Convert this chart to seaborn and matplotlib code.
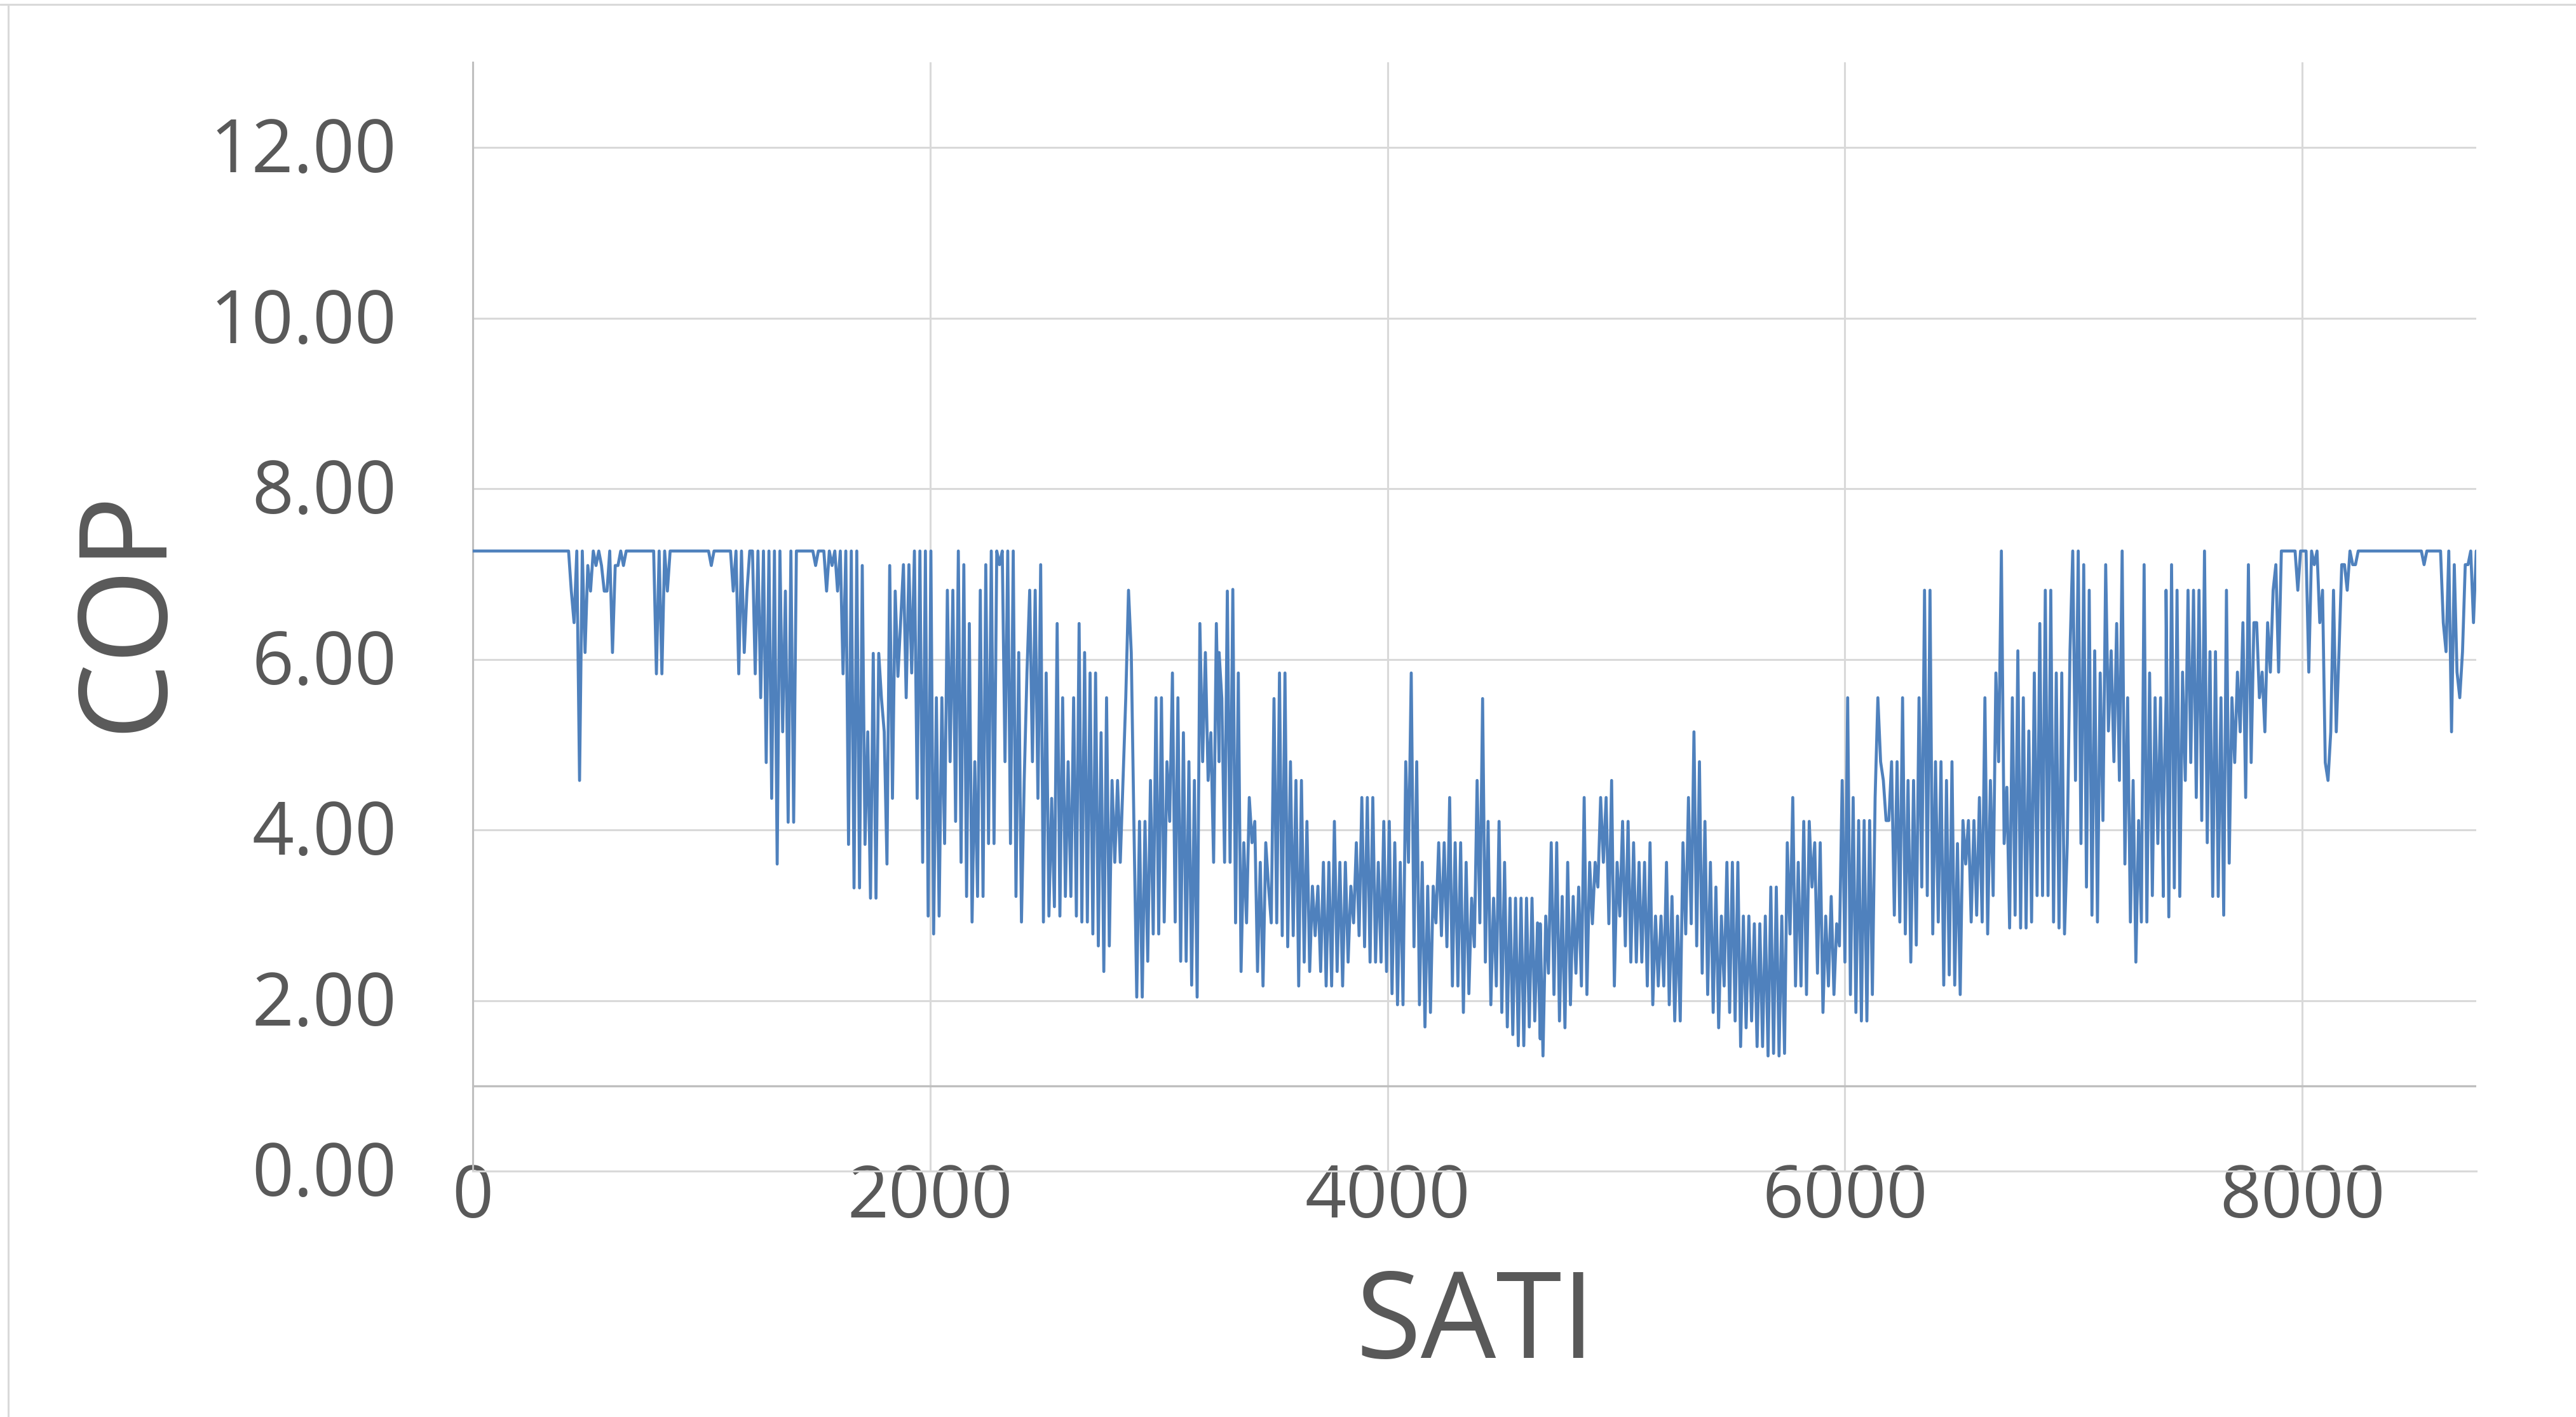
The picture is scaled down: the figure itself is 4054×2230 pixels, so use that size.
import numpy as np
import matplotlib
matplotlib.use("Agg")
import matplotlib.pyplot as plt
from matplotlib.lines import Line2D
from matplotlib.transforms import ScaledTranslation
import seaborn as sns

STEP = 12  # hours between read-off samples

cop_winter_start = [7.27] * 36 + [
    6.8, 6.43, 7.27, 4.58, 7.27, 6.08, 7.1, 6.8, 7.27, 7.1, 7.27, 7.1, 6.8, 6.8, 7.27, 6.08, 7.1, 7.1, 7.27, 7.1,
] + [7.27] * 11 + [5.83, 7.27, 5.83, 7.27, 6.8, 7.27] + [7.27] * 14 + [7.1] + [7.27] * 7 + [
    6.8, 7.27, 5.83, 7.27, 6.08, 6.8, 7.27, 7.27, 5.83, 7.27, 5.55, 7.27, 4.79, 7.27, 4.37, 7.27, 3.6, 7.27,
    5.15, 6.8, 4.09, 7.27, 4.09, 7.27,
] + [7.27] * 6 + [7.1] + [7.27] * 3 + [
    6.8, 7.27, 7.1, 7.27, 6.8, 7.27, 5.83, 7.27, 3.83, 7.27, 3.32, 7.27, 3.32, 7.1, 3.83, 5.15, 3.2, 6.07,
    3.2, 6.07, 5.54, 5.15, 3.6, 7.1, 4.37, 6.8, 5.8,
]

cop_spring = [
    7.11, 5.55, 7.11, 5.84, 7.27, 4.37, 7.27, 3.62, 7.27, 2.99, 7.27, 2.78, 5.55, 2.99, 5.55, 3.84, 6.81, 4.8,
    6.81, 4.1, 7.27, 3.62, 7.11, 3.22, 6.42, 2.92, 4.8, 3.22, 6.81, 3.22, 7.11, 3.84, 7.27, 3.84, 7.27, 7.11,
    7.27, 4.8, 7.27, 3.84, 7.27, 3.22, 6.08, 2.92, 4.58, 5.84, 6.81, 4.8, 6.81, 4.37, 7.11, 2.92, 5.84, 2.99,
    4.37, 3.1, 6.42, 2.99, 5.55, 3.22, 4.8, 3.22, 5.55, 2.99, 6.42, 2.92, 6.08, 2.92, 5.84, 2.78, 5.84, 2.64,
    5.14, 2.34, 5.55, 2.64, 4.58, 3.62, 4.58, 3.62, 4.58, 5.55, 6.81, 6.08, 4.0, 2.04, 4.1, 2.04, 4.1, 2.46,
    4.58, 2.78, 5.55, 2.78, 5.55, 2.92, 4.8, 4.1, 5.84, 2.92, 5.55, 2.46, 5.14, 2.46, 4.8, 2.18, 4.58, 2.04,
    6.42, 4.8, 6.08, 4.58, 5.14, 3.62, 6.42, 4.8,
]

cop_early_summer = [
    6.08, 5.54, 3.62, 6.8, 3.62, 6.82, 2.91, 5.84, 2.34, 3.85, 2.91, 4.38, 3.85, 4.1, 2.34, 3.62, 2.17, 3.85,
    3.34, 2.91, 5.54, 2.91, 5.84, 2.76, 5.84, 2.63, 4.8, 2.76, 4.58, 2.17, 4.58, 2.45, 4.1, 2.34, 3.34, 2.76,
    3.34, 2.34, 3.62, 2.17, 3.62, 2.17, 4.1, 2.34, 3.62, 2.17, 3.62, 2.45, 3.34, 2.91, 3.85, 2.76, 4.38, 2.63,
    4.38, 2.45, 4.38, 2.45, 3.62, 2.45, 4.1, 2.34, 4.1, 2.08, 3.85, 1.95, 3.62, 1.95, 4.8, 3.62, 5.84, 2.63,
    4.8, 1.95, 3.62, 1.69, 3.34, 1.86, 3.34, 2.91, 3.85, 2.76, 3.85, 2.63, 4.38, 2.17, 3.85, 2.17, 3.85, 1.86,
    3.62, 2.08, 3.2, 2.63, 4.58, 2.91, 5.54, 2.45, 4.1, 1.95, 3.2, 2.17, 4.1, 1.86, 3.62, 1.69, 3.2, 1.6, 3.2,
    1.47, 3.2, 1.47, 3.2, 1.69, 3.2, 1.76, 2.91, 1.55,
]

cop_late_summer = [
    2.9, 1.35, 2.99, 2.32, 3.85, 2.07, 3.85, 1.76, 3.22, 1.68, 3.62, 1.95, 3.22, 2.32, 3.33, 2.17, 4.38, 2.07,
    3.62, 2.9, 3.62, 3.33, 4.38, 3.62, 4.38, 2.9, 4.58, 2.17, 3.62, 2.99, 4.1, 2.64, 4.1, 2.45, 3.85, 2.45,
    3.62, 2.45, 3.62, 2.17, 3.85, 1.95, 2.99, 2.17, 2.99, 2.17, 3.62, 1.95, 3.22, 1.76, 2.99, 1.76, 3.85, 2.78,
    4.38, 2.9, 5.15, 2.64, 4.8, 2.32, 4.1, 2.07, 3.62, 1.86, 3.33, 1.68, 2.99, 2.17, 3.62, 1.86, 3.62, 1.76,
    3.62, 1.46, 2.99, 1.68, 2.99, 1.76, 2.9, 1.46, 2.9, 1.46, 2.99, 1.35, 3.33, 1.38, 3.33, 1.35, 2.99, 1.38,
    3.85, 2.78, 4.38, 2.17, 3.62, 2.17, 4.1, 2.07, 4.1, 3.33, 3.85, 2.32, 3.85, 1.86, 2.99, 2.17, 3.22, 2.07,
    2.9, 2.64, 4.58, 2.45, 5.55, 2.07, 4.38, 1.86,
]

cop_autumn = [
    4.11, 1.76, 4.11, 1.76, 4.11, 2.07, 4.38, 5.55, 4.8, 4.58, 4.11, 4.11, 4.8, 3.0, 4.8, 2.92, 5.55, 2.78,
    4.58, 2.45, 4.58, 2.65, 5.55, 3.33, 6.81, 3.23, 6.81, 2.78, 4.8, 2.92, 4.8, 2.18, 4.58, 2.3, 4.8, 2.18,
    3.84, 2.07, 4.11, 3.6, 4.11, 2.92, 4.11, 3.0, 4.38, 2.92, 5.55, 2.78, 4.58, 3.23, 5.84, 4.8, 7.27, 3.84,
    4.5, 2.85, 5.55, 3.0, 6.1, 2.85, 5.55, 2.85, 5.16, 2.92, 5.84, 3.23, 6.42, 3.23, 6.81, 3.23, 6.81, 2.92,
    5.84, 2.85, 5.84, 2.78, 3.84, 6.1, 7.27, 4.58, 7.27, 3.84, 7.11, 3.33, 6.81, 3.0, 6.1, 2.92, 5.84, 4.11,
    7.11, 5.16, 6.1, 4.8, 6.42, 4.58, 7.27, 3.6, 5.55, 2.92, 4.58, 2.45, 4.11, 2.92, 7.11, 2.92, 5.84, 3.23,
    5.55, 3.84, 5.55, 4.11, 6.81,
]

cop_winter_end = [
    3.22, 5.55, 2.98, 7.11, 3.32, 6.81, 3.22, 5.85, 4.58, 6.81, 4.79, 6.81, 4.38, 6.81, 4.11, 7.27, 3.85, 6.09,
    3.22, 6.09, 3.22, 5.55, 3.0, 6.81, 3.61, 5.55, 4.79, 5.85, 5.15, 6.43, 4.38, 7.11, 4.79, 6.43, 6.43, 5.55,
    5.85, 5.15, 6.43, 5.85, 6.81, 7.11, 5.85,
] + [7.27] * 6 + [6.81] + [7.27] * 3 + [
    5.85, 7.27, 7.11, 7.27, 6.43, 6.81, 4.79, 4.58, 5.15, 6.81, 5.15, 6.09, 7.11, 7.11, 6.81, 7.27, 7.11, 7.11,
] + [7.27] * 24 + [7.11] + [7.27] * 6 + [
    6.43, 6.09, 7.27, 5.15, 7.11, 5.85, 5.55, 6.09, 7.11, 7.11, 7.27, 6.43, 7.27, 6.81, 7.27, 7.11,
]

segments = [cop_winter_start, cop_spring, cop_early_summer, cop_late_summer, cop_autumn, cop_winter_end]
segment_start_hours = [0, 1884, 3264, 4668, 6060, 7392]

x_ticks = [0, 2000, 4000, 6000, 8000]
y_ticks = [0, 2, 4, 6, 8, 10, 12]
y_tick_labels = ["0.00", "2.00", "4.00", "6.00", "8.00", "10.00", "12.00"]

sati = np.concatenate([s + STEP * np.arange(len(v)) for s, v in zip(segment_start_hours, segments)])
cop = np.concatenate(segments)
keep = sati <= 8760
sati, cop = sati[keep], cop[keep]

W, H = 4055, 2230
L, R, T, B = 743.6, 3897, 98, 1843
GREY = "#595959"

sns.set_theme(style="white")
plt.rcParams["font.family"] = ["Open Sans", "DejaVu Sans"]
fig = plt.figure(figsize=(W / 100, H / 100), dpi=100, facecolor="white")
ax = fig.add_axes([L / W, 1 - B / H, (R - L) / W, (B - T) / H])

ax.set_axisbelow(True)
ax.grid(True, color="#D9D9D9", lw=2.2)
sns.lineplot(x=sati, y=cop, ax=ax, color="#4F81BD", lw=3.4, estimator=None, errorbar=None, zorder=3)
ax.axhline(1, color="#BFBFBF", lw=2.4, zorder=2)

ax.set_xlim(0, 8760)
ax.set_ylim(0, 13)
ax.set_xticks(x_ticks)
ax.set_yticks(y_ticks, y_tick_labels)
ax.tick_params(axis="x", length=0, labelsize=82, labelcolor=GREY, pad=-10)
ax.tick_params(axis="y", length=0, labelsize=83, labelcolor=GREY, pad=86)

# the y tick labels sit slightly above their gridlines in the reference
shift_up = ScaledTranslation(0, 5 / 100, fig.dpi_scale_trans)
for label in ax.get_yticklabels():
    label.set_transform(label.get_transform() + shift_up)

for side in ("top", "right"):
    ax.spines[side].set_visible(False)
ax.spines["left"].set_color("#BFBFBF")
ax.spines["left"].set_linewidth(2.2)
ax.spines["bottom"].set_color("#D9D9D9")
ax.spines["bottom"].set_linewidth(2.2)

ax.set_xlabel("SATI", fontsize=135, color=GREY, va="center")
ax.set_ylabel("COP", fontsize=138, color=GREY, va="center")
ax.xaxis.set_label_coords((2322 - L) / (R - L), (B - 2088) / (B - T))
ax.yaxis.set_label_coords((201 - L) / (R - L), (B - 960) / (B - T))

fig.add_artist(Line2D([0, 1], [1 - 7 / H, 1 - 7 / H], color="#D9D9D9", lw=2.2))
fig.add_artist(Line2D([13 / W, 13 / W], [0, 1 - 7 / H], color="#D9D9D9", lw=2.2))

fig.savefig("out.png", dpi=100)
